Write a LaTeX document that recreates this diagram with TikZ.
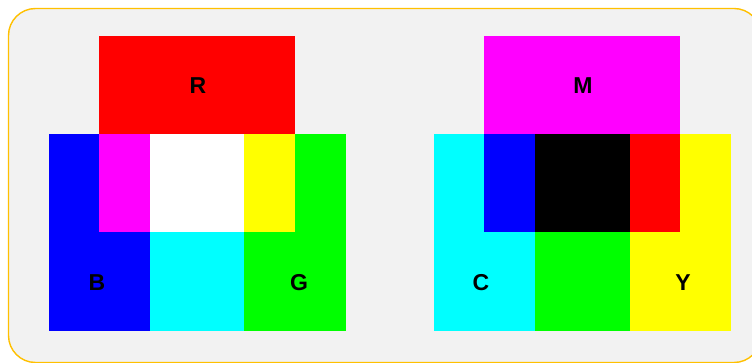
\documentclass[tikz,border=0pt]{standalone}
\usepackage{fontspec}
\setmainfont{Liberation Sans}
\definecolor{borderc}{HTML}{FFC000}
\definecolor{bgc}{HTML}{F2F2F2}
\definecolor{cR}{HTML}{FF0000}
\definecolor{cG}{HTML}{00FF00}
\definecolor{cB}{HTML}{0000FF}
\definecolor{cC}{HTML}{00FFFF}
\definecolor{cM}{HTML}{FF00FF}
\definecolor{cY}{HTML}{FFFF00}
\definecolor{cK}{HTML}{000000}
\definecolor{cW}{HTML}{FFFFFF}
\begin{document}
\begin{tikzpicture}[x=1pt,y=-1pt,
  lab/.style={font=\bfseries\fontsize{23}{23}\selectfont, text=black, inner sep=0pt}]
\useasboundingbox (0,0) rectangle (752,363);
\draw[draw=borderc, fill=bgc, line width=1.4pt, rounded corners=27pt] (8.5,8.5) rectangle (761,362.5);
% additive (RGB)
\fill[cR] (99,36) rectangle (295,134);
\fill[cB] (49,134) rectangle (99,232);
\fill[cB] (49,232) rectangle (150,331);
\fill[cM] (99,134) rectangle (150,232);
\fill[cW] (150,134) rectangle (244,232);
\fill[cY] (244,134) rectangle (295,232);
\fill[cG] (295,134) rectangle (346,232);
\fill[cG] (244,232) rectangle (346,331);
\fill[cC] (150,232) rectangle (244,331);
% subtractive (CMY)
\fill[cM] (484,36) rectangle (680,134);
\fill[cC] (434,134) rectangle (484,232);
\fill[cC] (434,232) rectangle (535,331);
\fill[cB] (484,134) rectangle (535,232);
\fill[cK] (535,134) rectangle (630,232);
\fill[cR] (630,134) rectangle (680,232);
\fill[cY] (680,134) rectangle (731,232);
\fill[cY] (630,232) rectangle (731,331);
\fill[cG] (535,232) rectangle (630,331);
% labels
\node[lab] (lR) at (198,86) {R};
\node[lab] (lB) at (97,283) {B};
\node[lab] (lG) at (299,283) {G};
\node[lab] (lM) at (583,86) {M};
\node[lab] (lC) at (481,283) {C};
\node[lab] (lY) at (683,283) {Y};
\end{tikzpicture}
\end{document}
